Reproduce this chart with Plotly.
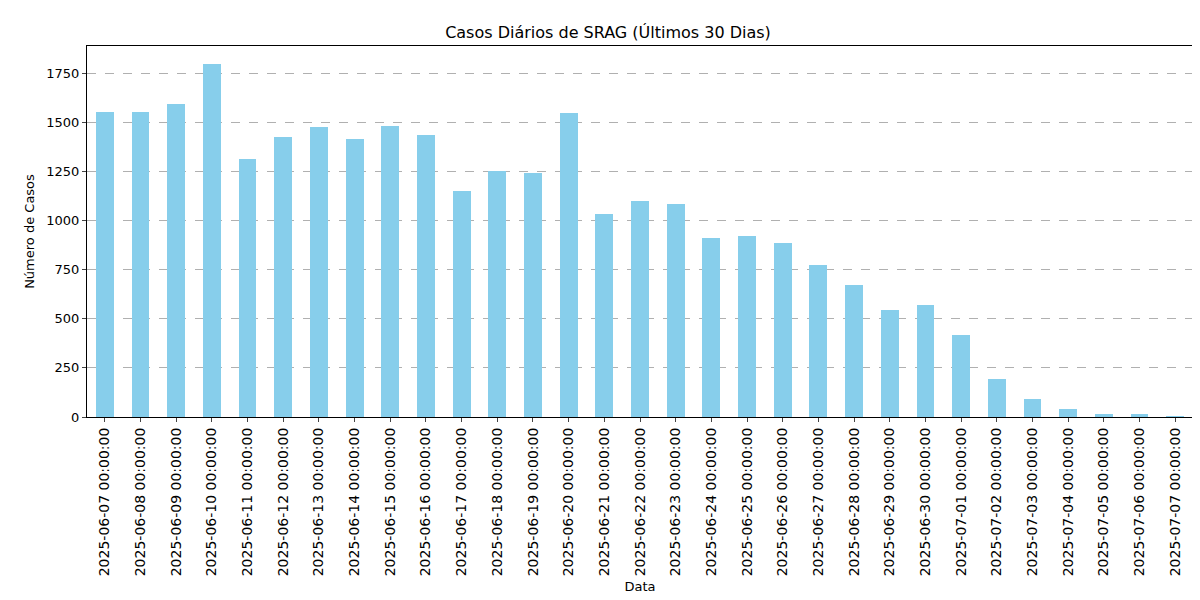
import plotly.graph_objects as go

dates = [
    '2025-06-07', '2025-06-08', '2025-06-09', '2025-06-10', '2025-06-11',
    '2025-06-12', '2025-06-13', '2025-06-14', '2025-06-15', '2025-06-16',
    '2025-06-17', '2025-06-18', '2025-06-19', '2025-06-20', '2025-06-21',
    '2025-06-22', '2025-06-23', '2025-06-24', '2025-06-25', '2025-06-26',
    '2025-06-27', '2025-06-28', '2025-06-29', '2025-06-30', '2025-07-01',
    '2025-07-02', '2025-07-03', '2025-07-04', '2025-07-05', '2025-07-06',
    '2025-07-07',
]
cases = [
    1555, 1555, 1595, 1800, 1315, 1425, 1475, 1415, 1480, 1435,
    1150, 1255, 1245, 1550, 1035, 1100, 1085, 910, 920, 885,
    775, 670, 545, 570, 420, 195, 90, 40, 15, 15, 2,
]
labels = [d + ' 00:00:00' for d in dates]

fig = go.Figure(go.Bar(x=labels, y=cases, marker_color='skyblue',
                       marker_line_width=0, width=0.5))

fig.update_layout(
    width=1200, height=600,
    margin=dict(l=79, r=15, t=38, b=191),
    plot_bgcolor='white', paper_bgcolor='white',
    font=dict(family='DejaVu Sans', size=13, color='black'),
    title=dict(text='Casos Diários de SRAG (Últimos 30 Dias)', x=0.5, xanchor='center',
               y=0.96, yanchor='middle', font=dict(size=16)),
    showlegend=False,
    bargap=0,
)
fig.update_xaxes(
    type='category', range=[-0.5, len(labels) - 0.5], tickangle=-90,
    showline=True, linecolor='black', mirror=True, ticks='outside', ticklen=4,
    tickfont=dict(size=14), automargin=False,
    title=dict(text='Data', standoff=6, font=dict(size=13)), showgrid=False,
)
fig.update_yaxes(
    range=[0, 1890], tickvals=[0, 250, 500, 750, 1000, 1250, 1500, 1750],
    showline=True, linecolor='black', mirror=True, ticks='outside', ticklen=4,
    tickfont=dict(size=13), automargin=False,
    gridcolor='#b0b0b0', griddash='dash', zeroline=False,
    title=dict(text='Número de Casos', standoff=8, font=dict(size=13)),
)

fig.write_html('out.html')
